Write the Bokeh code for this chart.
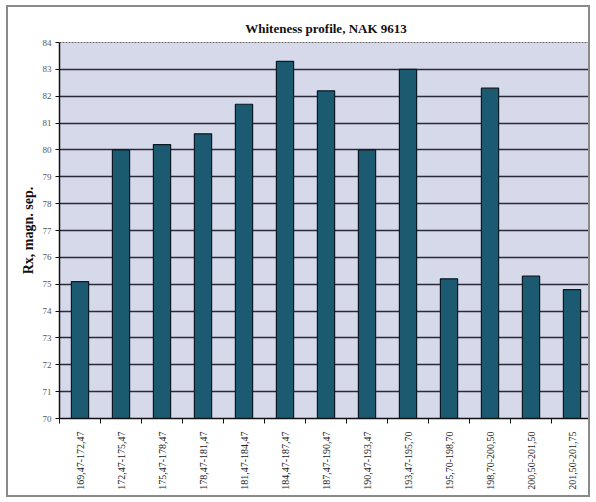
from bokeh.plotting import figure
from bokeh.models import FixedTicker, Range1d, ColumnDataSource
from bokeh.embed import file_html
from bokeh.resources import INLINE
from math import pi

categories = ["169,47-172,47", "172,47-175,47", "175,47-178,47", "178,47-181,47",
              "181,47-184,47", "184,47-187,47", "187,47-190,47", "190,47-193,47",
              "193,47-195,70", "195,70-198,70", "198,70-200,50", "200,50-201,50",
              "201,50-201,75"]
values = [75.1, 80.0, 80.2, 80.6, 81.7, 83.3, 82.2, 80.0, 83.0, 75.2, 82.3, 75.3, 74.8]
y_ticks = list(range(70, 85))

xs = list(range(1, len(categories) + 1))
src = ColumnDataSource(dict(x=xs, top=values, cat=categories))

p = figure(width=584, height=492, output_backend="svg", toolbar_location=None,
           x_range=Range1d(0.5, len(categories) + 0.5), y_range=Range1d(70, 84),
           min_border_left=51, min_border_right=0, min_border_top=35, min_border_bottom=81)

p.title.text = "Whiteness profile, NAK 9613"
p.title.align = "center"
p.title.text_font = "Liberation Serif"
p.title.text_font_size = "13px"
p.title.text_font_style = "bold"
p.title.text_color = "#111111"
p.title.offset = 0
p.title.standoff = 13

p.background_fill_color = "#d6d9ea"
p.border_fill_color = "white"
p.outline_line_color = "#666666"
p.outline_line_dash = "2 1"
p.outline_line_width = 1
p.styles = {"border": "2px solid #8a8a8a", "margin-left": "6px", "margin-top": "5px"}

p.vbar(x="x", top="top", bottom=70, width=0.42, source=src,
       fill_color="#1c5a72", line_color="#0a1a22", line_width=1.2)

# y axis
p.yaxis.ticker = FixedTicker(ticks=y_ticks)
p.yaxis.axis_label = "Rx, magn. sep."
p.yaxis.axis_label_text_font = "Liberation Serif"
p.yaxis.axis_label_text_font_size = "14px"
p.yaxis.axis_label_text_font_style = "bold"
p.yaxis.axis_label_text_color = "#111111"
p.yaxis.axis_label_standoff = 4
p.yaxis.major_label_text_font = "Liberation Serif"
p.yaxis.major_label_text_font_size = "9px"
p.yaxis.major_label_text_color = "#555555"
p.yaxis.major_label_standoff = 4
p.yaxis.major_tick_out = 4
p.yaxis.major_tick_in = 0
p.yaxis.minor_tick_line_color = None
p.yaxis.axis_line_color = "#111111"
p.yaxis.axis_line_width = 1.5
p.yaxis.major_tick_line_color = "#111111"

# x axis: labels at category centres, ticks at boundaries
bounds = [i + 0.5 for i in range(0, len(categories) + 1)]
p.xaxis.ticker = FixedTicker(ticks=xs, minor_ticks=bounds)
p.xaxis.major_label_overrides = {x: c for x, c in zip(xs, categories)}
p.xaxis.major_label_orientation = pi / 2
p.xaxis.major_label_text_font = "Liberation Serif"
p.xaxis.major_label_text_font_size = "10px"
p.xaxis.major_label_text_color = "#222222"
p.xaxis.major_label_standoff = 8
p.xaxis.major_tick_out = 0
p.xaxis.major_tick_in = 0
p.xaxis.minor_tick_out = 5
p.xaxis.minor_tick_in = 0
p.xaxis.minor_tick_line_color = "#111111"
p.xaxis.axis_line_color = "#111111"
p.xaxis.axis_line_width = 1.5

p.xgrid.grid_line_color = None
p.ygrid.grid_line_color = "#2a2a3a"
p.ygrid.grid_line_width = 1.5

open("out.html", "w").write(file_html(p, INLINE))
